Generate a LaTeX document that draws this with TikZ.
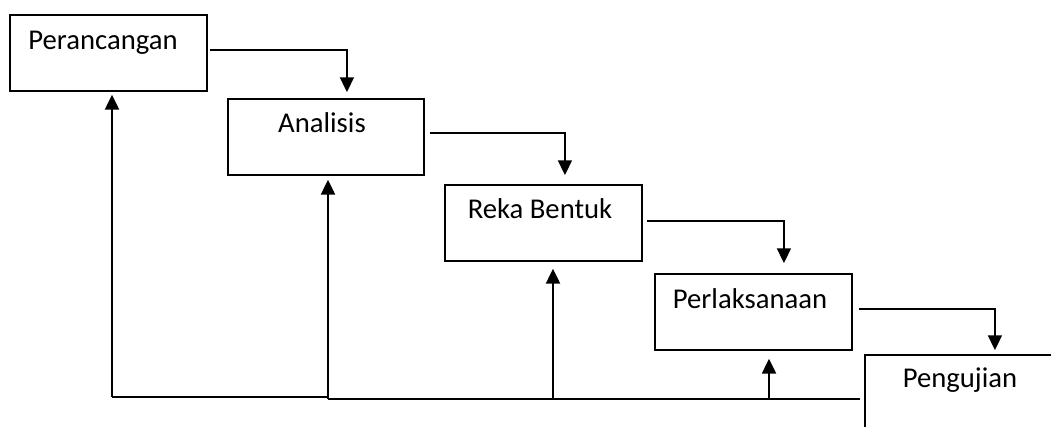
\documentclass[tikz,border=0pt]{standalone}
\usepackage{fontspec}
\setmainfont{Carlito}
\usetikzlibrary{arrows.meta,calc}
\begin{document}
\begin{tikzpicture}[x=0.75pt,y=-0.75pt,
  box/.style={draw=black,line width=1.4pt,minimum width=147.75pt,minimum height=57pt,inner sep=0pt,anchor=north west},
  lbl/.style={anchor=base,inner sep=0pt,font=\fontsize{21.5}{25}\selectfont},
  arr/.style={line width=1.4pt,-{Triangle[width=10.5pt,length=11pt]}},
  ln/.style={line width=1.4pt}]
\useasboundingbox (0,0) rectangle (1051,427);
\fill[white] (0,0) rectangle (1051,427);
% boxes
\node[box] (per) at (9,14) {};
\node[box,minimum width=147pt] (ana) at (227,98) {};
\node[box] (rek) at (444,184) {};
\node[box] (perl) at (654,273) {};
\node[box] (pen) at (864,354) {};
% labels
\node[lbl] (per-t) at (103,50) {Perancangan};
\node[lbl] (ana-t) at (322,133) {Analisis};
\node[lbl] (rek-t) at (540,219) {Reka Bentuk};
\node[lbl] (perl-t) at (750,309) {Perlaksanaan};
\node[lbl] (pen-t) at (960,388) {Pengujian};
% forward connectors
\draw[arr] ($(per.east)+(2,-3)$) -| ($(ana.north)+(21,-6)$);
\draw[arr] ($(ana.east)+(5,-4)$) -| ($(rek.north)+(21.5,-9)$);
\draw[arr] ($(rek.east)+(4,-2)$) -| ($(perl.north)+(30.5,-10)$);
\draw[arr] ($(perl.east)+(6,-3)$) -| ($(pen.north)+(31.5,-4)$);
% feedback connectors
\coordinate (c1) at (112,397);
\coordinate (c2) at (328,397);
\coordinate (c3) at (328,399);
\coordinate (c4) at (860,399);
\coordinate (c5) at (553,399);
\coordinate (c6) at (769,399);
\draw[ln] (c2) -- (c1);
\draw[arr] (c1) -- ($(c1 |- per.south)+(0,3)$);
\draw[ln] (c4) -- (c3);
\draw[arr] (c3) -- ($(c3 |- ana.south)+(0,4)$);
\draw[arr] (c5) -- ($(c5 |- rek.south)+(0,7)$);
\draw[arr] (c6) -- ($(c6 |- perl.south)+(0,8)$);
\end{tikzpicture}
\end{document}
